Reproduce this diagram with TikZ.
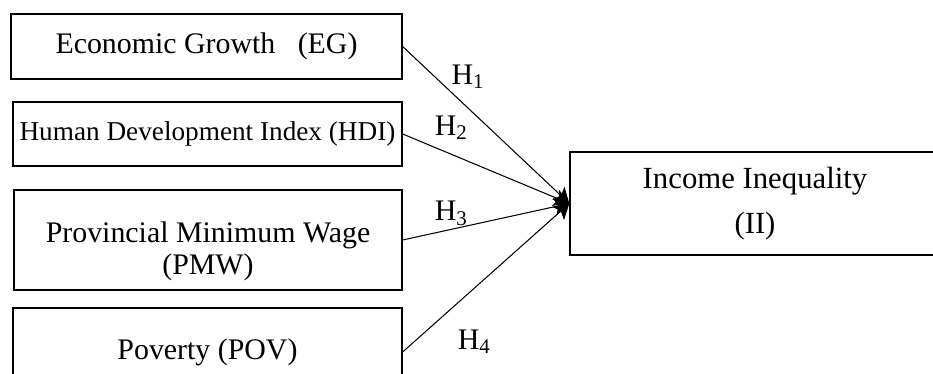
\documentclass[tikz,border=0pt]{standalone}
\usepackage{fontspec}
\setmainfont{Liberation Serif}
\usetikzlibrary{arrows.meta,positioning}

\tikzset{
  var/.style={draw,line width=0.8pt,align=center,inner sep=0pt,font=\fontsize{17}{17}\selectfont},
  hyp/.style={font=\fontsize{17}{17}\selectfont,inner sep=0pt},
  link/.style={->,line width=0.6pt}
}

\begin{document}
\begin{tikzpicture}[x=0.02cm,y=-0.02cm,>={Stealth[length=8.5pt,width=10pt,inset=2pt]}]
  \useasboundingbox (0,0) rectangle (933,374);
  \clip (0,0) rectangle (933,374);

  \node[var,minimum width=7.82cm,minimum height=1.3cm] (EG) at (206.5,46.5) {Economic Growth~~~(EG)};
  \node[var,minimum width=7.78cm,minimum height=1.28cm,font=\fontsize{15.5}{17}\selectfont] (HDI) at (207.5,134) {Human Development Index (HDI)};
  \node[var,minimum width=7.76cm,minimum height=2cm,text height=43pt,font=\fontsize{17}{18}\selectfont] (PMW) at (208,240) {Provincial Minimum Wage\\(PMW)};
  \node[var,minimum width=7.78cm,minimum height=1.76cm] (POV) at (207.5,352) {Poverty (POV)};
  \node[var,minimum width=7.4cm,minimum height=2.06cm,font=\fontsize{17.5}{26}\selectfont] (II) at (755,203.5) {Income Inequality\\(II)};

  \draw[link] (EG.east) -- node[hyp,pos=0.29,anchor=south west,yshift=1.5pt] {H\textsubscript{1}} (II.west);
  \draw[link] (HDI.east) -- node[hyp,pos=0.19,anchor=south west,yshift=4pt] {H\textsubscript{2}} (II.west);
  \draw[link] (PMW.east) -- node[hyp,pos=0.19,anchor=south west,yshift=4pt] {H\textsubscript{3}} (II.west);
  \draw[link] (POV.east) -- node[hyp,pos=0.08,anchor=west,xshift=23.5pt,yshift=-1pt] {H\textsubscript{4}} (II.west);
\end{tikzpicture}
\end{document}
